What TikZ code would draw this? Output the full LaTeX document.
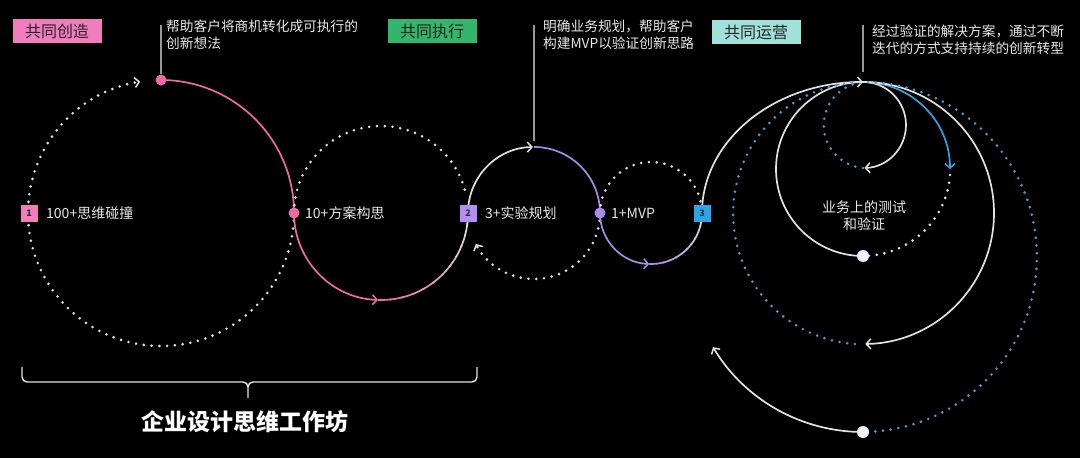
\documentclass[tikz,border=0pt]{standalone}
\usepackage{fontspec}
\setmainfont{Noto Sans CJK SC}
\usetikzlibrary{arrows.meta}
\definecolor{pinkline}{HTML}{EC6AA6}
\definecolor{pinktag}{HTML}{F27DBE}
\definecolor{greentag}{HTML}{34B56C}
\definecolor{tealtag}{HTML}{A0E1DA}
\definecolor{purpleline}{HTML}{A98BE8}
\definecolor{purplesq}{HTML}{B48EF5}
\definecolor{bluesq}{HTML}{2AA6E8}
\definecolor{bluedot}{HTML}{3FA2D6}
\definecolor{blueline}{HTML}{3A9FE0}
\definecolor{txt}{HTML}{E8E8E8}
\definecolor{arcw}{HTML}{E2E2E2}
\definecolor{dotw}{HTML}{EAF5FF}
\newcommand\gradarc[7]{%
  \foreach \k in {0,...,11}{%
    \pgfmathsetmacro\aa{#4+(#5-#4)*\k/12}%
    \pgfmathsetmacro\bb{#4+(#5-#4)*(\k+1.15)/12}%
    \pgfmathsetmacro\pc{100-\k*100/11}%
    \draw[solidarc,color=#6!\pc!#7] ({#1+#3*cos(\aa)},{#2+#3*sin(\aa)}) arc[start angle=\aa,end angle=\bb,radius=#3];
  }}
\begin{document}
\begin{tikzpicture}[x=1pt,y=1pt,
  solidarc/.style={line width=1.7pt},
  dotarc/.style={line width=2.9pt, line cap=round, dash pattern=on 0pt off 7.8pt},
  tip/.style={-{Straight Barb[length=4.5pt,width=10pt,line width=1.5pt]}},
  tag/.style={minimum width=89pt, minimum height=24pt, inner sep=0pt, text=black!85, font=\fontsize{16}{18}\selectfont},
  lbl/.style={anchor=west, text=txt, font=\fontsize{14}{16}\selectfont, inner sep=0pt},
  numsq/.style={minimum size=17pt, inner sep=0pt, font=\fontsize{9}{10}\selectfont\bfseries, text=black!80},
  pdot/.style={circle, minimum size=11pt, inner sep=0pt},
  callout/.style={anchor=north west, align=left, text=txt, font=\fontsize{13.7}{16.5}\selectfont, inner sep=0pt},
  cline/.style={draw=gray!80, line width=1.2pt}
]
\fill[black] (0,0) rectangle (1080,-458);
\useasboundingbox (0,0) rectangle (1080,-458);

% key points
\coordinate (p0) at (161,-80);
\coordinate (p1) at (294,-213);
\coordinate (p2) at (468,-213);
\coordinate (p3) at (600,-213);
\coordinate (p4) at (702,-213);
\coordinate (top) at (863,-82);
\coordinate (w1) at (863,-256);
\coordinate (w2) at (863,-432);

% circle 1
\draw[pinkline, solidarc] (p0) arc[start angle=90,end angle=0,radius=133];
\draw[arcw, dotarc, tip] (p1) arc[start angle=0,end angle=-261,radius=133];
% circle 2 (center 381,-213, r 87)
\draw[pinkline, solidarc, tip] (p1) arc[start angle=180,end angle=268,radius=87];
\gradarc{381}{-213}{87}{268}{360}{pinkline}{arcw}
\draw[arcw, dotarc] (p1) arc[start angle=180,end angle=14,radius=87];
% circle 3 (center 534,-213, r 66)
\draw[arcw, solidarc, tip] (p2) arc[start angle=180,end angle=91,radius=66];
\draw[purpleline, solidarc] (534,-147) arc[start angle=90,end angle=0,radius=66];
\draw[arcw, dotarc, tip] (p3) arc[start angle=0,end angle=-152,radius=66];
% circle 4 (center 651,-213, r 51)
\draw[purpleline, solidarc, tip] (p3) arc[start angle=180,end angle=268,radius=51];
\gradarc{651}{-213}{51}{268}{360}{purpleline}{arcw}
\draw[arcw, dotarc] (p3) arc[start angle=180,end angle=12,radius=51];

% right spiral
\draw[arcw, solidarc, tip] (p4) arc[start angle=180,end angle=90,x radius=161,y radius=131];
% circle A (center 863,-125, r 43)
\draw[arcw, solidarc, tip] (top) arc[start angle=90,end angle=-88,radius=43];
\draw[bluedot, dotarc] (863,-168) arc[start angle=-95,end angle=-262,radius=43];
% circle B (center 863,-169, r 87)
\draw[arcw, solidarc] (top) arc[start angle=90,end angle=270,radius=87];
\draw[blueline, solidarc, tip] (top) arc[start angle=90,end angle=0,radius=87];
\draw[arcw, dotarc] (950,-175) arc[start angle=-4,end angle=-88,radius=87];
% circle C (center 863,-213, r 131)
\draw[arcw, solidarc, tip] (top) arc[start angle=90,end angle=-89,radius=131];
\draw[bluedot, dotarc] (855,-344) arc[start angle=-94,end angle=-265,radius=131];
% circle D (center 863,-257, r 175)
\draw[bluedot, dotarc] (868,-82) arc[start angle=88,end angle=-88,radius=175];
\draw[arcw, solidarc, tip] (w2) arc[start angle=-90,end angle=-149,radius=175];

% callouts
\node[callout] (c1) at (166,-20) {帮助客户将商机转化成可执行的\\创新想法};
\node[callout] (c2) at (543,-20) {明确业务规划，帮助客户\\构建MVP以验证创新思路};
\node[callout] (c3) at (872,-25) {经过验证的解决方案，通过不断\\迭代的方式支持持续的创新转型};
\coordinate (l1) at (161,-25);
\coordinate (l2) at (534,-25);
\coordinate (l3) at (863,-25);
\draw[cline] (l1) -- (161,-74);
\draw[cline] (l2) -- (534,-141);
\draw[cline] (l3) -- (863,-72);

% tags
\node[tag, fill=pinktag] (t1) at (57,-31) {共同创造};
\node[tag, fill=greentag] (t2) at (432,-31) {共同执行};
\node[tag, fill=tealtag] (t3) at (756,-32) {共同运营};

% markers
\node[pdot, fill=pinkline] (d0) at (p0) {};
\node[pdot, fill=pinkline] (d1) at (p1) {};
\node[pdot, fill=purpleline] (d3) at (p3) {};
\node[pdot, fill=dotw, minimum size=12pt] (dw1) at (w1) {};
\node[pdot, fill=dotw, minimum size=12pt] (dw2) at (w2) {};
\node[numsq, fill=pinktag] (s1) at (29,-213) {1};
\node[numsq, fill=purplesq] (s2) at (p2) {2};
\node[numsq, fill=bluesq] (s3) at (p4) {3};

% labels
\node[lbl] (L1) at (46,-213) {100+思维碰撞};
\node[lbl] (L2) at (305,-213) {10+方案构思};
\node[lbl] (L3) at (485,-213) {3+实验规划};
\node[lbl] (L4) at (611,-213) {1+MVP};
\node[align=center, text=txt, font=\fontsize{14}{17}\selectfont, inner sep=0pt] (L5) at (864,-216) {业务上的测试\\和验证};

% brace
\draw[arcw, line width=1.4pt, line join=round]
  (22,-367) -- (22,-377) to[out=-90,in=180] (27,-382) -- (243,-382)
  to[out=0,in=90] (248,-387) -- (248,-398);
\draw[arcw, line width=1.4pt, line join=round]
  (248,-387) to[out=90,in=180] (253,-382) -- (472,-382)
  to[out=0,in=-90] (477,-377) -- (477,-367);
\node[text=white, font=\fontsize{23}{26}\selectfont\bfseries, inner sep=0pt] (title) at (245,-422) {企业设计思维工作坊};
\end{tikzpicture}
\end{document}
